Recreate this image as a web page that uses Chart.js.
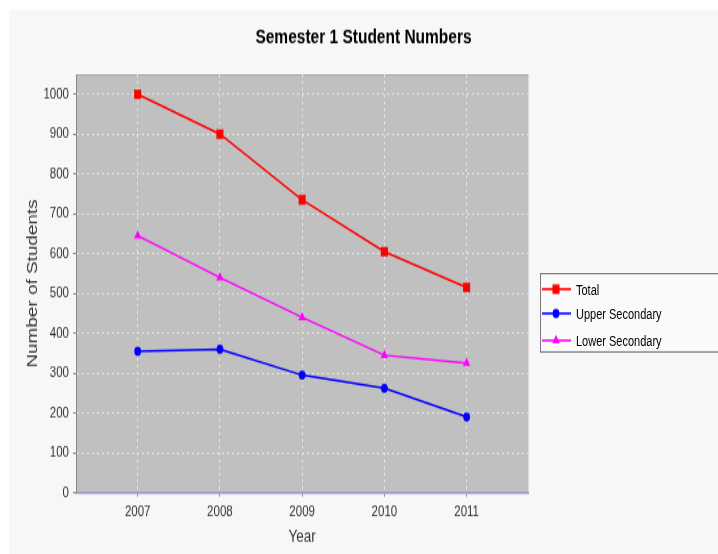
<!DOCTYPE html>
<html><head><meta charset="utf-8">
<script src="https://cdn.jsdelivr.net/npm/chart.js@4.4.1/dist/chart.umd.min.js"></script>
<style>
html,body{margin:0;padding:0;background:#fff;overflow:hidden;}
#wrap{position:absolute;left:0;top:0;width:718px;height:410px;transform:scaleY(1.3512);transform-origin:0 0;}
#c{position:absolute;left:0;top:0;width:718px;height:410px;}
#legend{position:absolute;left:540px;top:202px;width:180px;height:59px;box-sizing:border-box;border:1px solid #7a7a7a;background:#fafafa;font:11px "Liberation Sans",Arial,sans-serif;color:#000;}
.item{position:absolute;left:0;height:14px;display:flex;align-items:center;white-space:nowrap;}
.item canvas{width:32px;height:12px;margin-right:3px;}
</style></head><body>
<div id="wrap"><canvas id="c" width="718" height="410"></canvas><div id="legend"></div></div>
<script>
// ---- data ----
const years = [2007, 2008, 2009, 2010, 2011];
const yearLabels = ['2007', '2008', '2009', '2010', '2011'];
const totalStudents = [1000, 900, 735, 605, 515];
const upperSecondary = [355, 360, 295, 262, 190];
const lowerSecondary = [645, 540, 440, 345, 325];
const yTickValues = [0, 100, 200, 300, 400, 500, 600, 700, 800, 900, 1000];
const seriesNames = ['Total', 'Upper Secondary', 'Lower Secondary'];
const chartTitle = 'Semester 1 Student Numbers';
const xTitle = 'Year';
const yTitle = 'Number of Students';

const FONT = '"Liberation Sans", Arial, sans-serif';
Chart.defaults.font.family = FONT;

const toPoints = arr => years.map((x, i) => ({x: x, y: arr[i]}));

const bgPlugin = {
  id: 'bg',
  beforeDraw(chart) {
    const {ctx, chartArea: a} = chart;
    ctx.save();
    ctx.fillStyle = '#ffffff';
    ctx.fillRect(0, 0, chart.width, chart.height);
    ctx.fillStyle = '#f7f7f7';
    ctx.fillRect(9, 7.4, chart.width - 9, chart.height - 7.4);
    ctx.fillStyle = '#c0c0c0';
    ctx.fillRect(a.left, a.top, a.right - a.left, a.bottom - a.top);
    ctx.lineWidth = 1;
    ctx.strokeStyle = '#a4a4a4';
    ctx.beginPath(); ctx.moveTo(a.left, a.top + 0.5); ctx.lineTo(a.right, a.top + 0.5); ctx.stroke();
    ctx.strokeStyle = '#dcdcdc';
    ctx.beginPath(); ctx.moveTo(a.right + 0.5, a.top); ctx.lineTo(a.right + 0.5, a.bottom); ctx.stroke();
    ctx.restore();
  }
};

const gridOpts = {color: '#e8e8e8', lineWidth: 1, tickColor: '#888888', tickLength: 3, tickBorderDash: [], borderDash: [2, 3]};

const chart = new Chart(document.getElementById('c'), {
  type: 'line',
  data: {
    datasets: [
      {label: seriesNames[0], data: toPoints(totalStudents), borderColor: '#ff0000', backgroundColor: '#ff0000',
       pointStyle: 'rect', pointRadius: 5, pointBorderWidth: 0, borderWidth: 1.5},
      {label: seriesNames[1], data: toPoints(upperSecondary), borderColor: '#0000ff', backgroundColor: '#0000ff',
       pointStyle: 'circle', pointRadius: 3.4, pointBorderWidth: 0, borderWidth: 1.5},
      {label: seriesNames[2], data: toPoints(lowerSecondary), borderColor: '#ff00ff', backgroundColor: '#ff00ff',
       pointStyle: 'triangle', pointRadius: 4.2, pointBorderWidth: 0, borderWidth: 1.5}
    ]
  },
  options: {
    responsive: false,
    animation: false,
    devicePixelRatio: 1,
    layout: {padding: {left: 9, top: 7, right: 0, bottom: 0}},
    plugins: {
      legend: {display: false},
      tooltip: {enabled: false},
      title: {display: true, text: chartTitle, color: '#000000',
              font: {size: 15.5, weight: 'bold', family: FONT}, padding: {top: 11.8, bottom: 17.6}}
    },
    scales: {
      x: {
        type: 'linear', position: 'bottom', min: 2006.25, max: 2011.75,
        afterBuildTicks: s => { s.ticks = years.map(v => ({value: v})); },
        ticks: {callback: v => yearLabels[years.indexOf(v)], color: '#333333', font: {size: 11.5}, padding: 4,
                maxRotation: 0, autoSkip: false},
        grid: gridOpts,
        border: {display: true, color: '#9898c8', width: 1.5, dash: [2, 3]},
        title: {display: true, text: xTitle, color: '#333333', font: {size: 13.5}, padding: {top: 0, bottom: 4.5}},
        afterFit: s => { s.height = 45.4; }
      },
      y: {
        type: 'linear', position: 'left', min: 0, max: 1050,
        afterBuildTicks: s => { s.ticks = yTickValues.map(v => ({value: v})); },
        ticks: {callback: v => String(v), color: '#333333', font: {size: 11.5}, padding: 4},
        grid: gridOpts,
        border: {display: true, color: '#888888', width: 1, dash: [2, 3]},
        title: {display: true, text: yTitle, color: '#333333', font: {size: 14}, padding: {top: 15.6, bottom: 0}},
        afterFit: s => { s.width = 67; }
      },
      yRight: {
        type: 'linear', position: 'right', display: true,
        ticks: {display: false}, grid: {display: false, drawTicks: false}, border: {display: false},
        afterFit: s => { s.width = 189.7; }
      }
    }
  },
  plugins: [bgPlugin]
});

// HTML legend built from the chart's datasets
const legendEl = document.getElementById('legend');
const rowTops = [3.9, 22.4, 41.6];
chart.data.datasets.forEach((ds, i) => {
  const row = document.createElement('div');
  row.className = 'item';
  row.style.top = rowTops[i] + 'px';
  const cv = document.createElement('canvas');
  cv.width = 32; cv.height = 12;
  const g = cv.getContext('2d');
  g.strokeStyle = ds.borderColor; g.lineWidth = 1.6;
  g.beginPath(); g.moveTo(1, 6); g.lineTo(30, 6); g.stroke();
  g.fillStyle = ds.backgroundColor; g.strokeStyle = ds.borderColor;
  Chart.helpers.drawPoint(g, {pointStyle: ds.pointStyle, radius: ds.pointRadius, borderWidth: 0, rotation: 0}, 15, 6);
  const txt = document.createElement('span');
  txt.textContent = ds.label;
  row.appendChild(cv); row.appendChild(txt);
  legendEl.appendChild(row);
});
</script>
</body></html>
